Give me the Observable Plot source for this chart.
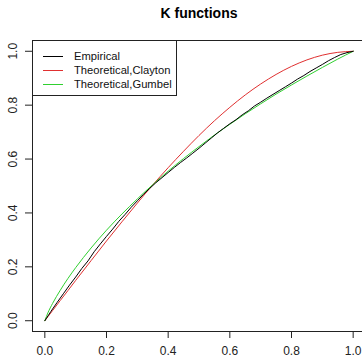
<!DOCTYPE html>
<html><head><meta charset="utf-8">
<script src="https://cdn.jsdelivr.net/npm/d3@7"></script>
<script src="https://cdn.jsdelivr.net/npm/@observablehq/plot@0.6"></script>
<style>
html,body{margin:0;padding:0;background:#fff;overflow:hidden;}
#wrap{position:relative;width:362px;height:358px;}
#legend{position:absolute;left:32px;top:40px;width:145px;height:56px;border:1px solid #222;box-sizing:border-box;background:#fff;font-family:Arial,"Liberation Sans",sans-serif;font-size:11.2px;color:#111;padding-top:8px;}
.row{height:14px;line-height:14px;display:flex;align-items:center;white-space:nowrap;}
.sw{flex:0 0 20px;width:20px;height:0;border-top:1px solid;margin-left:10px;margin-right:11px;}
.tx{flex:0 0 auto;}
</style></head>
<body><div id="wrap"></div>
<script>
const title = "K functions";
const seriesNames = ["Empirical", "Theoretical,Clayton", "Theoretical,Gumbel"];
const seriesColors = ["#000000", "#e03030", "#30d030"];
const xTicks = [0, 0.2, 0.4, 0.6, 0.8, 1.0];
const yTicks = [0, 0.2, 0.4, 0.6, 0.8, 1.0];

const theoX = [0, 0.01, 0.025, 0.05, 0.075, 0.1, 0.15, 0.2, 0.25, 0.3, 0.35, 0.4, 0.45, 0.5, 0.55, 0.6, 0.65, 0.7, 0.75, 0.8, 0.85, 0.9, 0.95, 1.0];
const clayton = [0, 0.015, 0.0375, 0.075, 0.112, 0.1495, 0.223, 0.296, 0.367, 0.4365, 0.504, 0.568, 0.629, 0.6875, 0.742, 0.792, 0.838, 0.8785, 0.914, 0.944, 0.968, 0.9855, 0.996, 1.0];
const gumbel = [0, 0.0294, 0.0639, 0.113, 0.157, 0.197, 0.270, 0.336, 0.396, 0.452, 0.505, 0.555, 0.602, 0.646, 0.689, 0.729, 0.768, 0.805, 0.841, 0.875, 0.908, 0.940, 0.971, 1.0];

const empX = [0,0.02,0.04,0.06,0.08,0.10,0.12,0.14,0.16,0.18,0.20,0.22,0.24,0.26,0.28,0.30,0.32,0.34,0.36,0.38,0.40,0.42,0.44,0.46,0.48,0.50,0.52,0.54,0.56,0.58,0.60,0.62,0.64,0.66,0.68,0.70,0.72,0.74,0.76,0.78,0.80,0.82,0.84,0.86,0.88,0.90,0.92,0.94,0.96,0.98,1.00];
const empirical = [0,0.035,0.068,0.100,0.132,0.162,0.194,0.222,0.256,0.285,0.313,0.340,0.369,0.394,0.421,0.445,0.469,0.491,0.512,0.531,0.550,0.569,0.587,0.604,0.622,0.640,0.659,0.678,0.697,0.714,0.731,0.746,0.764,0.779,0.797,0.811,0.826,0.840,0.854,0.868,0.882,0.897,0.910,0.925,0.938,0.951,0.965,0.977,0.988,0.995,1.0];

const rows = [];
empX.forEach((x, i) => rows.push({x, y: empirical[i], s: seriesNames[0]}));
theoX.forEach((x, i) => rows.push({x, y: clayton[i], s: seriesNames[1]}));
theoX.forEach((x, i) => rows.push({x, y: gumbel[i], s: seriesNames[2]}));

const font = "Arial, 'Liberation Sans', sans-serif";
const plot = Plot.plot({
  width: 362, height: 358,
  marginLeft: 32, marginRight: -3, marginTop: 40, marginBottom: 27,
  style: {fontFamily: font, fontSize: "12px", background: "#fff", color: "#222"},
  x: {domain: [-0.04, 1.04], ticks: xTicks},
  y: {domain: [-0.04, 1.04], ticks: yTicks},
  color: {domain: seriesNames, range: seriesColors},
  marks: [
    Plot.frame({stroke: "#222"}),
    Plot.axisX({ticks: xTicks, tickSize: 7, tickPadding: 8, tickFormat: d3.format(".1f"), label: null, fontSize: 12, fill: "#222"}),
    Plot.axisY({ticks: yTicks, tickSize: 7, tickFormat: () => "", label: null}),
    Plot.text(yTicks, {y: d => d, text: d3.format(".1f"), frameAnchor: "left", dx: -19, rotate: -90, textAnchor: "middle", lineAnchor: "middle", fontSize: 12, fill: "#222"}),
    Plot.line(rows.filter(d => d.s !== seriesNames[0]), {x: "x", y: "y", z: "s", stroke: "s", strokeWidth: 1, curve: "monotone-x"}),
    Plot.line(rows.filter(d => d.s === seriesNames[0]), {x: "x", y: "y", stroke: "s", strokeWidth: 1}),
    Plot.text([title], {frameAnchor: "top", dy: -27, fontWeight: "bold", fontSize: 14, fill: "#000", lineAnchor: "middle"})
  ]
});
const wrap = document.getElementById("wrap");
wrap.appendChild(plot);
const lg = document.createElement("div");
lg.id = "legend";
seriesNames.forEach((n, i) => {
  const r = document.createElement("div"); r.className = "row";
  const sw = document.createElement("span"); sw.className = "sw"; sw.style.borderTopColor = seriesColors[i];
  const t = document.createElement("span"); t.className = "tx"; t.textContent = n;
  r.appendChild(sw); r.appendChild(t); lg.appendChild(r);
});
wrap.appendChild(lg);
</script></body></html>
